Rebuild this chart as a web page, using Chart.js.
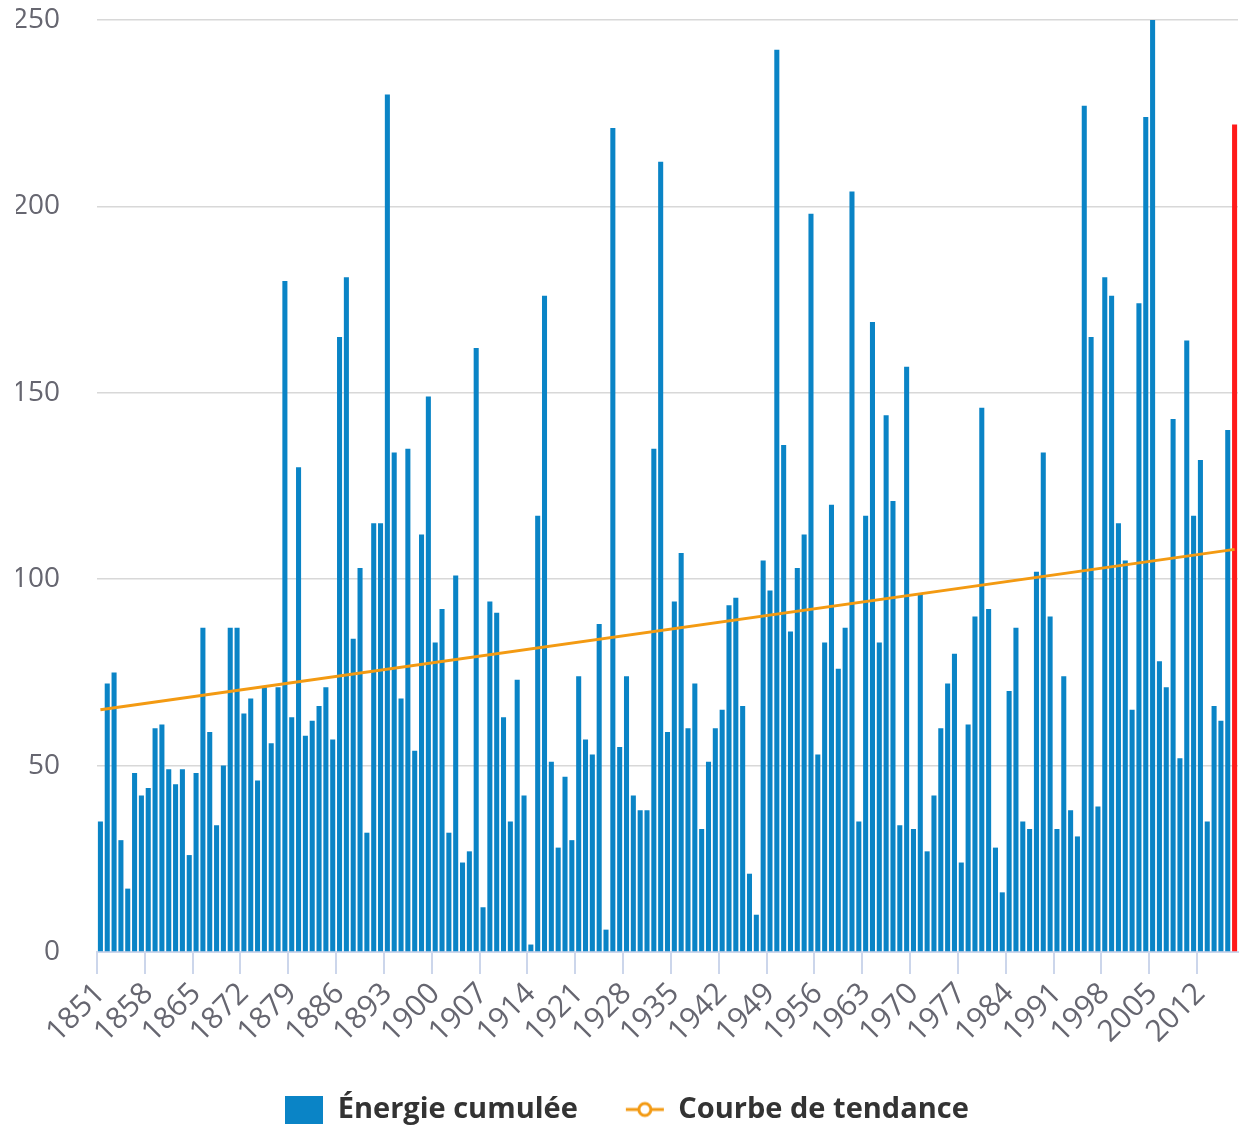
<!DOCTYPE html>
<html lang="fr">
<head>
<meta charset="utf-8">
<title>Énergie cumulée des cyclones</title>
<script src="https://cdn.jsdelivr.net/npm/chart.js@4.4.1/dist/chart.umd.min.js"></script>
<style>
  html, body { margin: 0; padding: 0; background: #fff; }
  #wrap { position: relative; width: 1243px; height: 1128px; }
</style>
</head>
<body>
<div id="wrap"><canvas id="chartAce"></canvas></div>
<script>
// ── DATA ──────────────────────────────────────────────────────────
const YEARS = [
  '1851','1852','1853','1854','1855','1856','1857','1858','1859','1860',
  '1861','1862','1863','1864','1865','1866','1867','1868','1869','1870',
  '1871','1872','1873','1874','1875','1876','1877','1878','1879','1880',
  '1881','1882','1883','1884','1885','1886','1887','1888','1889','1890',
  '1891','1892','1893','1894','1895','1896','1897','1898','1899','1900',
  '1901','1902','1903','1904','1905','1906','1907','1908','1909','1910',
  '1911','1912','1913','1914','1915','1916','1917','1918','1919','1920',
  '1921','1922','1923','1924','1925','1926','1927','1928','1929','1930',
  '1931','1932','1933','1934','1935','1936','1937','1938','1939','1940',
  '1941','1942','1943','1944','1945','1946','1947','1948','1949','1950',
  '1951','1952','1953','1954','1955','1956','1957','1958','1959','1960',
  '1961','1962','1963','1964','1965','1966','1967','1968','1969','1970',
  '1971','1972','1973','1974','1975','1976','1977','1978','1979','1980',
  '1981','1982','1983','1984','1985','1986','1987','1988','1989','1990',
  '1991','1992','1993','1994','1995','1996','1997','1998','1999','2000',
  '2001','2002','2003','2004','2005','2006','2007','2008','2009','2010',
  '2011','2012','2013','2014','2015','2016','2017'
];

const ENERGY = [
  35, 72, 75, 30, 17, 48, 42, 44, 60, 61,
  49, 45, 49, 26, 48, 87, 59, 34, 50, 87,
  87, 64, 68, 46, 71, 56, 71, 180, 63, 130,
  58, 62, 66, 71, 57, 165, 181, 84, 103, 32,
  115, 115, 230, 134, 68, 135, 54, 112, 149, 83,
  92, 32, 101, 24, 27, 162, 12, 94, 91, 63,
  35, 73, 42, 2, 117, 176, 51, 28, 47, 30,
  74, 57, 53, 88, 6, 221, 55, 74, 42, 38,
  38, 135, 212, 59, 94, 107, 60, 72, 33, 51,
  60, 65, 93, 95, 66, 21, 10, 105, 97, 242,
  136, 86, 103, 112, 198, 53, 83, 120, 76, 87,
  204, 35, 117, 169, 83, 144, 121, 34, 157, 33,
  96, 27, 42, 60, 72, 80, 24, 61, 90, 146,
  92, 28, 16, 70, 87, 35, 33, 102, 134, 90,
  33, 74, 38, 31, 227, 165, 39, 181, 176, 115,
  105, 65, 174, 224, 250, 78, 71, 143, 52, 164,
  117, 132, 35, 66, 62, 140, 222
];

// trend line end points (first and last year)
const TREND_YEARS  = ['1851', '2017'];
const TREND_VALUES = [65, 108];

const Y_TICKS = [0, 50, 100, 150, 200, 250];
const LABEL_EVERY = 7;

// ── STYLE ─────────────────────────────────────────────────────────
const BAR_COLOR   = '#0a84c6';
const LAST_COLOR  = '#ff1a1a';
const TREND_COLOR = '#f39a12';
const AXIS_COLOR  = '#ccd6eb';
const TICK_COLOR  = '#666670';
const FONT        = "'Open Sans', 'Noto Sans', sans-serif";

// legend icons
function makeBoxIcon() {
  const c = document.createElement('canvas');
  c.width = 38; c.height = 28;
  const g = c.getContext('2d');
  g.fillStyle = BAR_COLOR;
  g.fillRect(0, 0, 38, 28);
  return c;
}
function makeLineIcon() {
  const c = document.createElement('canvas');
  c.width = 40; c.height = 18;
  const g = c.getContext('2d');
  g.strokeStyle = TREND_COLOR;
  g.lineWidth = 3;
  g.beginPath(); g.moveTo(1, 9); g.lineTo(39, 9); g.stroke();
  g.beginPath(); g.arc(20, 9, 6, 0, Math.PI * 2);
  g.fillStyle = '#fff'; g.fill(); g.stroke();
  return c;
}
const ICONS = [makeBoxIcon(), makeLineIcon()];

new Chart(document.getElementById('chartAce'), {
  data: {
    labels: YEARS,
    datasets: [
      {
        type: 'bar',
        label: 'Énergie cumulée',
        data: ENERGY,
        backgroundColor: YEARS.map((_, i) => i === YEARS.length - 1 ? LAST_COLOR : BAR_COLOR),
        borderWidth: 0,
        barPercentage: 0.74,
        categoryPercentage: 1,
        order: 2
      },
      {
        type: 'line',
        label: 'Courbe de tendance',
        data: TREND_YEARS.map((y, i) => ({ x: y, y: TREND_VALUES[i] })),
        borderColor: TREND_COLOR,
        borderWidth: 3,
        pointRadius: 0,
        fill: false,
        order: 1
      }
    ]
  },
  options: {
    responsive: true,
    maintainAspectRatio: false,
    animation: false,
    layout: { padding: { top: 20, right: 5, left: 16, bottom: -6 } },
    plugins: {
      tooltip: { enabled: false },
      legend: {
        position: 'bottom',
        labels: {
          usePointStyle: true,
          pointStyleWidth: 38,
          boxHeight: 28,
          padding: 48,
          color: '#333',
          font: { family: FONT, size: 29, weight: 'bold' },
          generateLabels(chart) {
            return chart.data.datasets.map((ds, i) => ({
              text: ds.label,
              pointStyle: ICONS[i],
              fillStyle: 'transparent',
              strokeStyle: 'transparent',
              lineWidth: 0,
              fontColor: '#333',
              hidden: !chart.isDatasetVisible(i),
              datasetIndex: i
            }));
          }
        }
      }
    },
    scales: {
      x: {
        type: 'category',
        offset: true,
        afterFit: scale => { scale.paddingLeft = 0; scale.paddingRight = 0; scale.height = 95; },
        grid: {
          display: true,
          offset: true,
          drawOnChartArea: false,
          drawTicks: true,
          tickLength: 22,
          color: ctx => (ctx.index % LABEL_EVERY === 0 ? AXIS_COLOR : 'rgba(0,0,0,0)'),
          lineWidth: 2
        },
        border: { display: true, color: AXIS_COLOR, width: 2 },
        ticks: {
          autoSkip: false,
          maxRotation: 45,
          minRotation: 45,
          padding: 2,
          color: TICK_COLOR,
          font: { family: FONT, size: 30 },
          callback: (value, index) => (index % LABEL_EVERY === 0 ? YEARS[index] : '')
        }
      },
      y: {
        min: Y_TICKS[0],
        max: Y_TICKS[Y_TICKS.length - 1],
        afterBuildTicks: scale => { scale.ticks = Y_TICKS.map(v => ({ value: v })); },
        afterFit: scale => { scale.width = 81; scale.paddingTop = 0; scale.paddingBottom = 0; },
        grid: { color: '#d8d8d8', drawTicks: false, lineWidth: 1.5 },
        border: { display: false },
        ticks: {
          padding: 37,
          color: TICK_COLOR,
          font: { family: FONT, size: 28 }
        }
      }
    }
  }
});
</script>
</body>
</html>
